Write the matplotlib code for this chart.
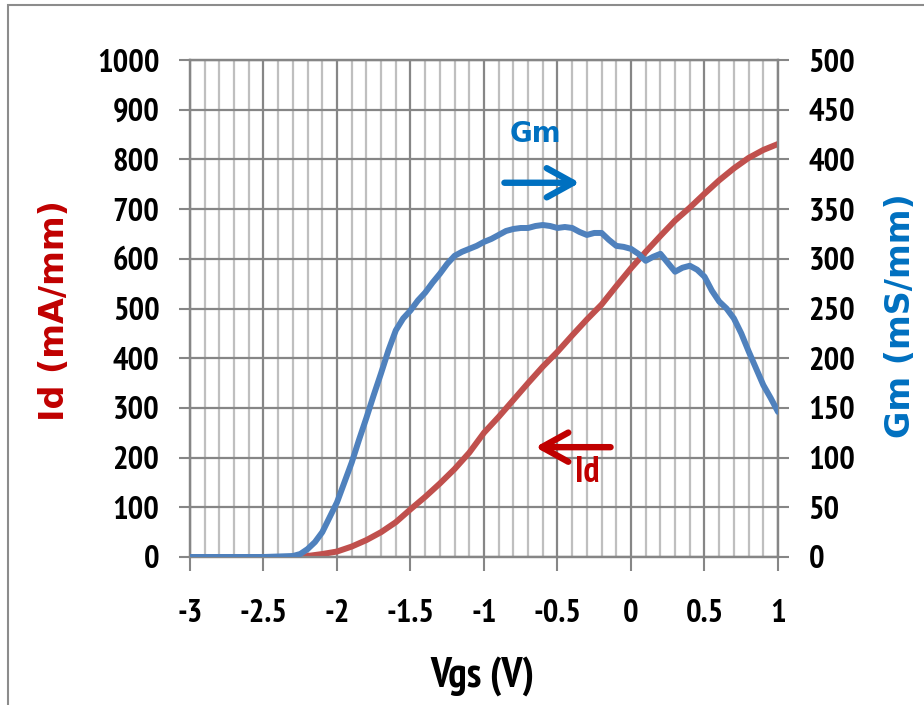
import matplotlib
matplotlib.use("Agg")
import matplotlib.pyplot as plt
from matplotlib.patches import Rectangle
import numpy as np

# ---- data ----
vgs_id = [-3.0, -2.5, -2.3, -2.2, -2.1, -2.0, -1.9, -1.8, -1.7, -1.6, -1.5, -1.4, -1.3,
          -1.2, -1.1, -1.0, -0.9, -0.8, -0.7, -0.6, -0.5, -0.4, -0.3, -0.2, -0.1,
          0.0, 0.1, 0.2, 0.3, 0.4, 0.5, 0.6, 0.7, 0.8, 0.9, 1.0]
id_vals = [0, 0, 0, 2, 6, 11, 21, 34, 50, 70, 96, 121, 148,
           177, 210, 250, 282, 316, 350, 383, 413, 446, 478, 508, 545,
           581, 614, 646, 677, 703, 731, 758, 782, 803, 819, 831]

vgs_gm = [-3.0, -2.5, -2.3, -2.25, -2.2, -2.15, -2.1, -2.05, -2.0, -1.95, -1.9, -1.85,
          -1.8, -1.75, -1.7, -1.65, -1.6, -1.55, -1.5, -1.45, -1.4, -1.35, -1.3,
          -1.25, -1.2, -1.15, -1.1, -1.05, -1.0, -0.95, -0.9, -0.85, -0.8, -0.75,
          -0.7, -0.65, -0.6, -0.55, -0.5, -0.45, -0.4, -0.35, -0.3, -0.25, -0.2,
          -0.15, -0.1, -0.05, 0.0, 0.05, 0.1, 0.15, 0.2, 0.25, 0.3, 0.35, 0.4,
          0.45, 0.5, 0.55, 0.6, 0.65, 0.7, 0.75, 0.8, 0.85, 0.9, 0.95, 1.0]
gm_vals = [0, 0, 1, 3, 8, 15, 25, 40, 55, 75, 95, 118,
           140, 163, 185, 208, 228, 240, 248, 258, 266, 276, 285,
           295, 303, 307, 310, 313, 317, 320, 324, 328, 330, 331,
           331, 333, 334, 333, 331, 332, 331, 327, 324, 326, 326,
           319, 313, 312, 310, 305, 298, 302, 305, 296, 287, 291, 293,
           289, 282, 268, 257, 250, 240, 225, 207, 190, 173, 160, 146]

x_ticks = [-3, -2.5, -2, -1.5, -1, -0.5, 0, 0.5, 1]
x_tick_labels = ["-3", "-2.5", "-2", "-1.5", "-1", "-0.5", "0", "0.5", "1"]
id_ticks = list(range(0, 1001, 100))
gm_ticks = list(range(0, 501, 50))

RED = "#C0504D"
BLUE = "#4F81BD"
DRED = "#C00000"
DBLUE = "#0070C0"
MAJ = "#868686"
MIN = "#BFBFBF"
NARROW = ["PT Sans Narrow", "Carlito", "DejaVu Sans"]
WIDE = ["DejaVu Sans"]

fig = plt.figure(figsize=(9.24, 7.05), dpi=100)
ax = fig.add_axes([190/924, 1-557/705, (778-190)/924, (557-60)/705])
ax2 = ax.twinx()

ax.plot(vgs_id, id_vals, color=RED, lw=4.3, solid_capstyle="round",
        solid_joinstyle="round", zorder=3)
ax2.plot(vgs_gm, gm_vals, color=BLUE, lw=4.3, solid_capstyle="round",
         solid_joinstyle="round", zorder=3)

ax.set_xlim(-3, 1)
ax.set_ylim(0, 1000)
ax2.set_ylim(0, 500)

ax.set_xticks(x_ticks)
ax.set_xticklabels(x_tick_labels)
ax.set_xticks(np.arange(-3, 1.001, 0.1), minor=True)
ax.set_yticks(id_ticks)
ax2.set_yticks(gm_ticks)

ax.grid(True, which="major", color=MAJ, lw=1.6)
ax.grid(True, which="minor", axis="x", color=MIN, lw=1.6)
ax.set_axisbelow(True)

for a in (ax, ax2):
    for s in a.spines.values():
        s.set_color(MAJ)
        s.set_linewidth(1.6)

ax.tick_params(axis="x", which="major", length=10, width=1.5, color=MAJ, pad=20)
ax.tick_params(axis="x", which="minor", length=0)
ax.tick_params(axis="y", length=8, width=1.5, color=MAJ, pad=14)
ax2.tick_params(axis="y", length=8, width=1.5, color=MAJ, pad=14)

for lab in ax.get_xticklabels() + ax.get_yticklabels() + ax2.get_yticklabels():
    lab.set_fontfamily(NARROW)
    lab.set_fontweight("bold")
    lab.set_fontsize(23.5)

fig.text(55/924, 1-311/705, "Id (mA/mm)", rotation=90, ha="center", va="center",
         color=DRED, fontsize=24, fontweight="bold", family=WIDE)
fig.text(900/924, 1-316/705, "Gm (mS/mm)", rotation=90, ha="center", va="center",
         color=DBLUE, fontsize=24, fontweight="bold", family=WIDE)
fig.text(482/924, 1-676/705, "Vgs (V)", ha="center", va="center",
         color="black", fontsize=30, fontweight="bold", family=NARROW)

# annotations
ax.text(-0.653, 852, "Gm", color=DBLUE, fontsize=20, fontweight="bold",
        family=WIDE, ha="center", va="center")
ax.annotate("", xy=(-0.33, 753), xytext=(-0.88, 753),
            arrowprops=dict(arrowstyle="->,head_length=1.9,head_width=1.05",
                            color=DBLUE, lw=4.6))
ax.text(-0.30, 151, "Id", color=DRED, fontsize=26, fontweight="bold",
        family=NARROW, ha="center", va="baseline")
ax.annotate("", xy=(-0.67, 221), xytext=(-0.12, 221),
            arrowprops=dict(arrowstyle="->,head_length=1.9,head_width=1.05",
                            color=DRED, lw=4.6))

# outer chart-area frame
fig.patches.append(Rectangle((8/924, -0.1), 1.2, 1.1 - 5/705, transform=fig.transFigure,
                             fill=False, edgecolor="#8C8C8C", lw=1.5))

fig.savefig("out.png", dpi=100, facecolor="white")
